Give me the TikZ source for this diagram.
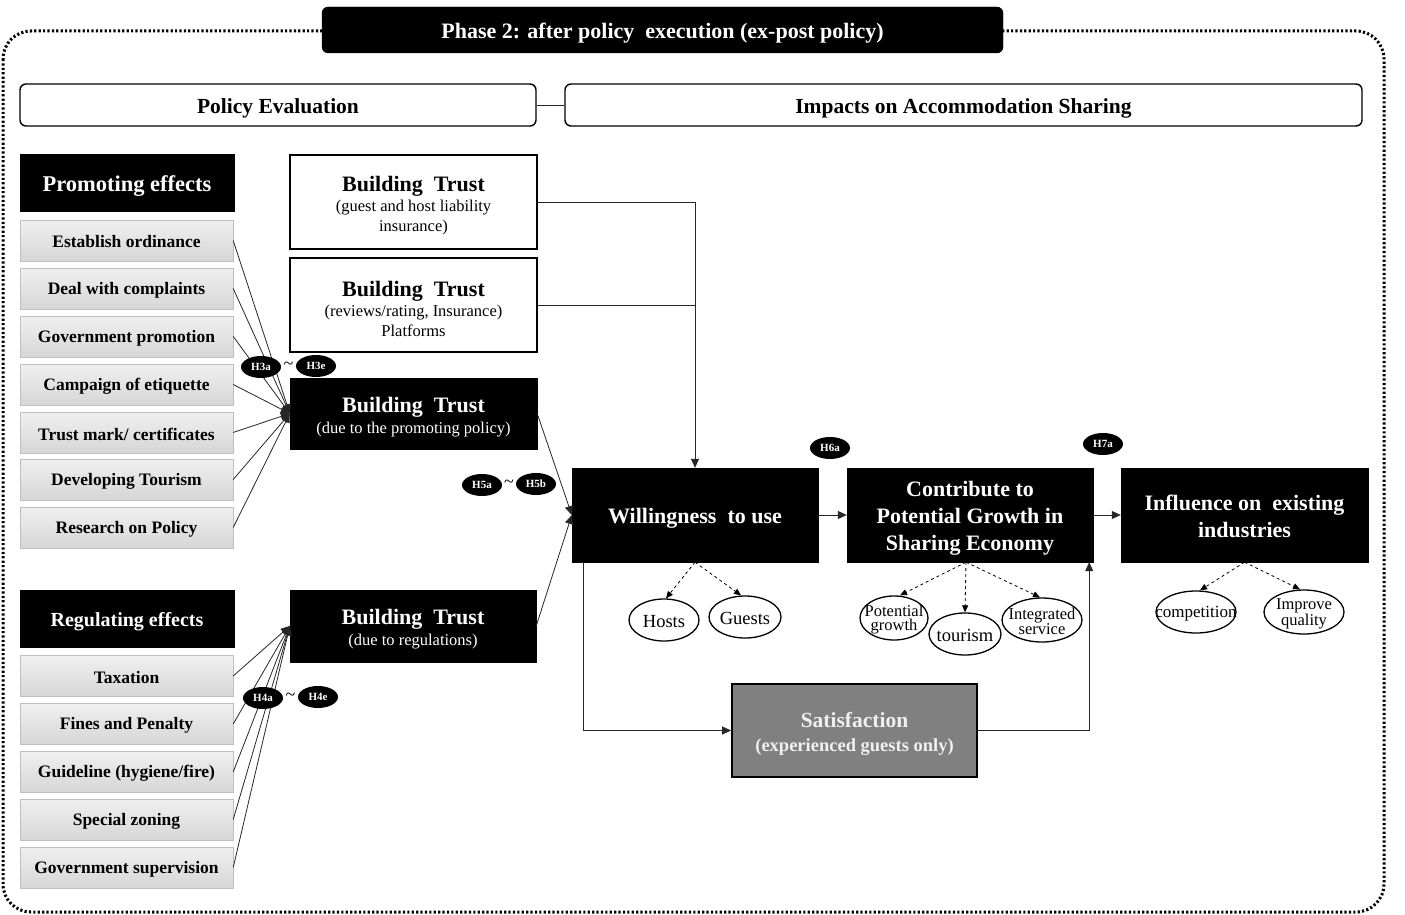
\documentclass[tikz,border=0pt]{standalone}
\usepackage{fontspec}
\setmainfont{Liberation Serif}
\usetikzlibrary{arrows.meta,shapes.geometric,calc}
\newcommand\lo[1]{\raisebox{-3.5pt}[\height][\depth]{#1}}
\newcommand\lol[1]{\raisebox{-1.5pt}[\height][\depth]{#1}}
\newcommand\zw[1]{\raisebox{-1.5pt}[\height][\depth]{\makebox[0pt]{#1}}}
\begin{document}
\begin{tikzpicture}[x=1pt,y=-1pt,
  blackbox/.style={draw=black, fill=black, text=white, align=center, inner sep=0pt},
  whitebox/.style={draw=black, line width=1.8pt, fill=white, align=center, inner sep=0pt},
  itembox/.style={draw=gray!50, top color=gray!12, bottom color=gray!32, minimum width=213, minimum height=41, inner sep=0pt, font=\fontsize{17.5}{20}\selectfont\bfseries},
  headbox/.style={draw=black, line width=1.4pt, rounded corners=6pt, fill=white, inner sep=0pt, font=\fontsize{21.5}{24}\selectfont\bfseries},
  hlab/.style={ellipse, fill=black, text=white, font=\fontsize{11}{12}\selectfont\bfseries, minimum width=40, minimum height=22, inner sep=0pt},
  oval/.style={ellipse, draw=black, line width=1.3pt, fill=white, inner sep=0pt, align=center},
  tilde/.style={font=\fontsize{18}{18}\selectfont, inner sep=0pt},
  conn/.style={line width=0.8pt, draw=black!85},
  arr/.style={conn, -{Triangle[length=9pt,width=8pt]}},
  darr/.style={line width=0.8pt, dashed, -{Triangle[length=7pt,width=6pt]}}
]
\useasboundingbox (0,0) rectangle (1405,915);

% dotted frame
\draw[line width=3pt, dash pattern=on 2.2pt off 2.2pt, rounded corners=28pt] (3,31) rectangle (1384,912);

% phase header
\node[blackbox, rounded corners=6pt, minimum width=681, minimum height=46, font=\fontsize{22}{25}\selectfont\bfseries] (phase) at (662.5,30) {\lo{Phase 2: after policy\ \ execution (ex-post policy)}};

% section headers
\node[headbox, minimum width=516, minimum height=42] (pe) at (278,105) {\lo{Policy Evaluation}};
\node[headbox, minimum width=797, minimum height=42] (imp) at (963.5,105) {\lo{Impacts on Accommodation Sharing}};
\draw[conn] (pe.east) -- (imp.west);

% promoting effects
\node[blackbox, minimum width=214, minimum height=57, font=\fontsize{22.5}{25}\selectfont\bfseries] (prom) at (127,182.5) {\lo{Promoting effects}};
\node[itembox] (p1) at (126.5,240.5) {\lol{Establish\ ordinance}};
\node[itembox] (p2) at (126.5,288.5) {\lol{Deal with complaints}};
\node[itembox] (p3) at (126.5,336.5) {\lol{Government promotion}};
\node[itembox] (p4) at (126.5,384.5) {\lol{Campaign of etiquette}};
\node[itembox] (p5) at (126.5,432.5) {\lol{Trust mark/ certificates}};
\node[itembox] (p6) at (126.5,479.5) {\lol{Developing Tourism}};
\node[itembox] (p7) at (126.5,527.5) {\lol{Research\ on Policy}};

% regulating effects
\node[blackbox, minimum width=214, minimum height=57, font=\fontsize{20}{23}\selectfont\bfseries] (reg) at (127,618.5) {\lo{Regulating effects}};
\node[itembox] (r1) at (126.5,676) {\lol{Taxation}};
\node[itembox] (r2) at (126.5,724) {\lol{Fines and Penalty}};
\node[itembox] (r3) at (126.5,772) {\lol{Guideline (hygiene/fire)}};
\node[itembox] (r4) at (126.5,819.5) {\lol{Special zoning}};
\node[itembox] (r5) at (126.5,867.5) {\lol{Government supervision}};

% building trust boxes
\node[whitebox, minimum width=247, minimum height=94, font=\fontsize{16.5}{20}\selectfont] (bt1) at (413.5,202)
  {\lo{\fontsize{22}{24}\selectfont\bfseries Building\ \ Trust}\\\lo{(guest and host liability}\\\lo{insurance)}};
\node[whitebox, minimum width=247, minimum height=94, font=\fontsize{16.5}{20}\selectfont] (bt2) at (413.5,305)
  {\lo{\fontsize{22}{24}\selectfont\bfseries Building\ \ Trust}\\\lo{(reviews/rating, Insurance)}\\\lo{Platforms}};
\node[blackbox, minimum width=247, minimum height=71, font=\fontsize{16.5}{21}\selectfont] (bt3) at (413.5,413.5)
  {\lo{\fontsize{22}{24}\selectfont\bfseries Building\ \ Trust}\\\lo{(due to the promoting policy)}};
\node[blackbox, minimum width=246, minimum height=72, font=\fontsize{16.5}{21}\selectfont] (bt4) at (413,626)
  {\lo{\fontsize{22}{24}\selectfont\bfseries Building\ \ Trust}\\\lo{(due to regulations)}};

% main chain
\node[blackbox, minimum width=246, minimum height=94, font=\fontsize{22}{27}\selectfont\bfseries] (will) at (695,515) {\lo{Willingness\ \ to use}};
\node[blackbox, minimum width=246, minimum height=94, font=\fontsize{22}{27}\selectfont\bfseries] (contr) at (970,515) {\lo{Contribute to}\\\lo{Potential Growth in}\\\lo{Sharing Economy}};
\node[blackbox, minimum width=247, minimum height=94, font=\fontsize{22}{27}\selectfont\bfseries] (infl) at (1244.5,515) {\lol{Influence on\ \ existing}\\\lol{industries}};
\node[draw=black, line width=1.8pt, fill=black!50, text=black!6, align=center, inner sep=0pt, minimum width=245, minimum height=93, font=\fontsize{18.5}{24}\selectfont\bfseries] (sat) at (854.5,730.5)
  {\lo{\fontsize{21.5}{24}\selectfont Satisfaction}\\\lo{(experienced guests only)}};

% ovals
\node[oval, minimum width=70, minimum height=42, font=\fontsize{18.5}{19}\selectfont] (hosts) at (664,620) {\zw{Hosts}};
\node[oval, minimum width=72, minimum height=42, font=\fontsize{18.5}{19}\selectfont] (guests) at (745,617) {\zw{Guests}};
\node[oval, minimum width=68, minimum height=44, font=\fontsize{16.5}{14}\selectfont] (pot) at (894,618) {\zw{Potential}\\\zw{growth}};
\node[oval, minimum width=72, minimum height=42, font=\fontsize{18.5}{19}\selectfont] (tour) at (965,634) {\zw{tourism}};
\node[oval, minimum width=80, minimum height=44, font=\fontsize{16.5}{14}\selectfont] (integ) at (1042,620) {\zw{Integrated}\\\zw{service}};
\node[oval, minimum width=80, minimum height=42, font=\fontsize{17}{18}\selectfont] (comp) at (1196,612) {\zw{competition}};
\node[oval, minimum width=80, minimum height=44, font=\fontsize{16.5}{14}\selectfont] (impq) at (1304,612) {\zw{Improve}\\\zw{quality}};

% promoting / regulating connectors
\foreach \p in {p1,p2,p3,p4,p5,p6,p7} \draw[arr] (\p.east) -- (bt3.west);
\foreach \r in {r1,r2,r3,r4,r5} \draw[arr] (\r.east) -- (bt4.west);

% to willingness
\draw[arr] (bt1.east) -| (will.north);
\draw[conn] (bt2.east) -- (will.north |- bt2.east);
\draw[arr] (bt3.east) -- (will.west);
\draw[arr] (bt4.east) -- (will.west);

\draw[arr] (will.east) -- (contr.west);
\draw[arr] (contr.east) -- (infl.west);

% satisfaction path
\coordinate (wsat) at ($(will.south west)+(12,0)$);
\coordinate (csat) at ($(contr.south east)+(-4,0)$);
\draw[arr] (wsat) |- (sat.west);
\draw[arr] (sat.east) -| (csat);

% dashed arrows
\draw[darr] (will.south) -- ($(hosts.north)+(2,0)$);
\draw[darr] (will.south) -- ($(guests.north)+(-4,0)$);
\draw[darr] ($(contr.south)+(-4,0)$) -- ($(pot.north)+(6,0)$);
\draw[darr] ($(contr.south)+(-4,0)$) -- (tour.north);
\draw[darr] ($(contr.south)+(-4,0)$) -- ($(integ.north)+(-2,0)$);
\draw[darr] (infl.south) -- ($(comp.north)+(4,0)$);
\draw[darr] (infl.south) -- ($(impq.north)+(-4,0)$);

% hypothesis labels (on top of connectors)
\node[hlab] (h3a) at (261,367) {H3a};
\node[hlab] (h3e) at (316,366) {H3e};
\node[tilde] (t3) at (288.5,366) {\textasciitilde};
\node[hlab] (h4a) at (263,698) {H4a};
\node[hlab] (h4e) at (318,697) {H4e};
\node[tilde] (t4) at (290.5,697) {\textasciitilde};
\node[hlab] (h5a) at (482,485) {H5a};
\node[hlab] (h5b) at (536,484) {H5b};
\node[tilde] (t5) at (509,484) {\textasciitilde};
\node[hlab] (h6a) at (830,448) {H6a};
\node[hlab] (h7a) at (1103,444) {H7a};
\end{tikzpicture}
\end{document}
